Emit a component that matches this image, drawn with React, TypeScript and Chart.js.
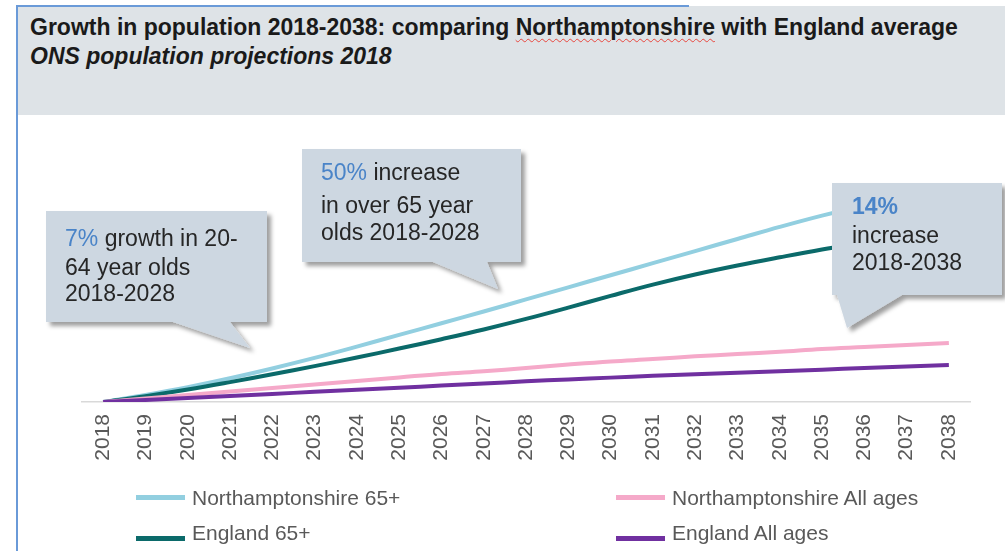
import React, { useEffect, useRef } from "react";
import { Chart, registerables } from "chart.js";

Chart.register(...registerables);

// ---------- data ----------
const years = [
  "2018", "2019", "2020", "2021", "2022", "2023", "2024", "2025", "2026", "2027", "2028",
  "2029", "2030", "2031", "2032", "2033", "2034", "2035", "2036", "2037", "2038",
];

// % growth since 2018
const northantsOver65 = [0, 1.8, 3.8, 6.1, 8.6, 11.3, 14.2, 17.2, 20.2, 23.2, 26.3, 29.4, 32.5, 35.6, 38.7, 41.8, 44.9, 47.8, 50.4, 52.7, 54.6];
const englandOver65 = [0, 1.5, 3.2, 5.1, 7.1, 9.2, 11.4, 13.7, 16.1, 18.6, 21.3, 24.2, 27.2, 30.1, 32.7, 35.0, 37.1, 39.1, 40.9, 42.7, 44.3];
const northantsAllAges = [0, 0.9, 1.8, 2.7, 3.6, 4.5, 5.4, 6.3, 7.2, 7.9, 8.7, 9.6, 10.4, 11.0, 11.7, 12.3, 12.9, 13.6, 14.1, 14.6, 15.1];
const englandAllAges = [0, 0.52, 1.04, 1.56, 2.08, 2.6, 3.12, 3.65, 4.2, 4.75, 5.3, 5.8, 6.25, 6.7, 7.1, 7.5, 7.9, 8.3, 8.7, 9.1, 9.5];

const seriesLabels = ["Northamptonshire 65+", "England 65+", "Northamptonshire All ages", "England All ages"];
const seriesData = [northantsOver65, englandOver65, northantsAllAges, englandAllAges];

const titleLine1a = "Growth in population 2018-2038: comparing ";
const titleWord = "Northamptonshire";
const titleLine1b = " with England average";
const titleLine2 = "ONS population projections 2018";

// ---------- styles ----------
const COLORS = ["#92cfe0", "#0b6a6a", "#f5a9c9", "#7030a0"];
const DRAW_ORDER = [3, 2, 1, 0];
const FONT = '"Liberation Sans", Arial, Helvetica, sans-serif';
const TEXT = "#262626";
const BLUE = "#4a84c8";
const CALLOUT_FILL = "#cdd7e1";

type Line = { top: number; parts: { t: string; c?: string; b?: boolean }[] };

function CalloutText({ left, lines }: { left: number; lines: Line[] }) {
  return (
    <>
      {lines.map((ln, i) => (
        <div
          key={i}
          style={{
            position: "absolute",
            left,
            top: ln.top,
            fontFamily: FONT,
            fontSize: 23,
            lineHeight: "23px",
            color: TEXT,
            whiteSpace: "nowrap",
          }}
        >
          {ln.parts.map((p, j) => (
            <span key={j} style={{ color: p.c || TEXT, fontWeight: p.b ? "bold" : "normal" }}>
              {p.t}
            </span>
          ))}
        </div>
      ))}
    </>
  );
}

function calloutPath(l: number, t: number, r: number, b: number, tl: number, tr: number, tipX: number, tipY: number) {
  return `M${l},${t} L${r},${t} L${r},${b} L${tr},${b} L${tipX},${tipY} L${tl},${b} L${l},${b} Z`;
}

export default function App() {
  const ref = useRef<HTMLCanvasElement | null>(null);

  useEffect(() => {
    if (!ref.current) return;
    const chart = new Chart(ref.current, {
      type: "line",
      data: {
        labels: years,
        datasets: seriesData.map((d, i) => ({
          label: seriesLabels[i],
          data: d,
          borderColor: COLORS[i],
          backgroundColor: COLORS[i],
          borderWidth: 4,
          pointRadius: 0,
          pointHoverRadius: 0,
          tension: 0.4,
          fill: false,
          order: DRAW_ORDER[i],
        })),
      },
      options: {
        animation: false,
        responsive: false,
        maintainAspectRatio: false,
        events: [],
        layout: { padding: { left: 82, right: 35, top: 129, bottom: 89 } },
        plugins: { legend: { display: false }, tooltip: { enabled: false }, title: { display: false } },
        scales: {
          x: {
            offset: true,
            grid: { display: false, drawTicks: false },
            border: { display: true, color: "#d9d9d9", width: 1.5 },
            ticks: {
              minRotation: 90,
              maxRotation: 90,
              autoSkip: false,
              padding: 12,
              color: "#595959",
              font: { family: FONT, size: 21 },
            },
            afterFit: (s: any) => {
              s.height = 60;
            },
          },
          y: { display: false, min: 0, max: 70 },
        },
      },
    });
    return () => chart.destroy();
  }, []);

  return (
    <div
      style={{
        position: "fixed",
        left: 0,
        top: 0,
        width: 1005,
        height: 551,
        background: "#ffffff",
        overflow: "hidden",
      }}
    >
      <canvas ref={ref} width={1005} height={551} style={{ position: "absolute", left: 0, top: 0, width: 1005, height: 551 }} />

      {/* header band */}
      <div style={{ position: "absolute", left: 17, top: 6, width: 988, height: 109, background: "#dee3e7" }} />
      <div style={{ position: "absolute", left: 16, top: 5, width: 673, height: 2, background: "#6a9ad8" }} />
      <div style={{ position: "absolute", left: 16, top: 5, width: 2, height: 546, background: "#6a9ad8" }} />
      <div
        style={{
          position: "absolute",
          left: 30,
          top: 16,
          fontFamily: FONT,
          fontSize: 23,
          lineHeight: "23px",
          fontWeight: "bold",
          color: "#1a1a1a",
          whiteSpace: "nowrap",
        }}
      >
        {titleLine1a}
        <span
          style={{
            textDecorationLine: "underline",
            textDecorationStyle: "wavy",
            textDecorationColor: "#e8473f",
            textDecorationThickness: "1px",
            textUnderlineOffset: "3px",
          }}
        >
          {titleWord}
        </span>
        {titleLine1b}
      </div>
      <div
        style={{
          position: "absolute",
          left: 30,
          top: 45,
          fontFamily: FONT,
          fontSize: 23,
          lineHeight: "23px",
          fontWeight: "bold",
          fontStyle: "italic",
          color: "#1a1a1a",
          whiteSpace: "nowrap",
        }}
      >
        {titleLine2}
      </div>

      {/* callout shapes */}
      <svg
        width={1005}
        height={551}
        style={{ position: "absolute", left: 0, top: 0, pointerEvents: "none", overflow: "visible" }}
      >
        <defs>
          <filter id="sh" x="-20%" y="-20%" width="140%" height="140%">
            <feDropShadow dx="4" dy="4" stdDeviation="2.2" floodColor="#000" floodOpacity="0.38" />
          </filter>
        </defs>
        <path d={calloutPath(46, 211, 267, 322, 173, 230, 250, 348)} fill={CALLOUT_FILL} filter="url(#sh)" />
        <path d={calloutPath(302, 149, 521, 262, 433, 487, 498, 289)} fill={CALLOUT_FILL} filter="url(#sh)" />
        <path d={calloutPath(832, 183, 1002, 295, 837, 902, 847, 328)} fill={CALLOUT_FILL} filter="url(#sh)" />
      </svg>

      <CalloutText
        left={65}
        lines={[
          { top: 227, parts: [{ t: "7%", c: BLUE }, { t: " growth in 20-" }] },
          { top: 256, parts: [{ t: "64 year olds" }] },
          { top: 282, parts: [{ t: "2018-2028" }] },
        ]}
      />
      <CalloutText
        left={321}
        lines={[
          { top: 161, parts: [{ t: "50%", c: BLUE }, { t: " increase" }] },
          { top: 194, parts: [{ t: "in over 65 year" }] },
          { top: 221, parts: [{ t: "olds 2018-2028" }] },
        ]}
      />
      <CalloutText
        left={852}
        lines={[
          { top: 195, parts: [{ t: "14%", c: BLUE, b: true }] },
          { top: 224, parts: [{ t: "increase" }] },
          { top: 251, parts: [{ t: "2018-2038" }] },
        ]}
      />

      {/* legend: 65+ series in left column, All ages in right column */}
      {seriesLabels.map((lab, i) => {
        const gx = i < 2 ? 136 : 616;
        const gRow = i % 2;
        const swY = gRow === 0 ? 495 : 536;
        const txY = gRow === 0 ? 487 : 522;
        return (
          <React.Fragment key={lab}>
            <div style={{ position: "absolute", left: gx, top: swY, width: 49, height: 5, background: COLORS[i] }} />
            <div
              style={{
                position: "absolute",
                left: gx + 56,
                top: txY,
                fontFamily: FONT,
                fontSize: 21,
                lineHeight: "21px",
                color: "#595959",
                whiteSpace: "nowrap",
              }}
            >
              {lab}
            </div>
          </React.Fragment>
        );
      })}
    </div>
  );
}
